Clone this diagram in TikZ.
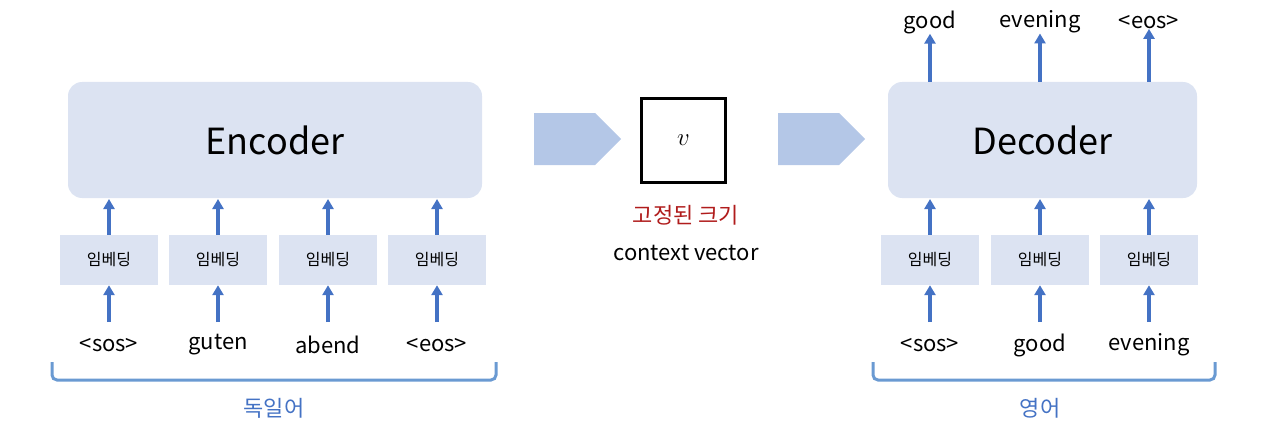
\documentclass[tikz,border=0pt]{standalone}
\usepackage{fontspec}
\setmainfont{Noto Sans CJK KR}
\usetikzlibrary{arrows.meta,shapes.arrows}
\definecolor{boxfill}{HTML}{DCE3F2}
\definecolor{arr}{HTML}{4472C4}
\definecolor{brace}{HTML}{6A9AD2}
\definecolor{big}{HTML}{B4C7E7}
\definecolor{red}{HTML}{B01C1C}
\tikzset{
  big/.style={fill=boxfill,rounded corners=14pt,inner sep=0},
  emb/.style={fill=boxfill,minimum width=98pt,minimum height=50pt,inner sep=0,font=\fontsize{16}{18}\selectfont},
  word/.style={font=\fontsize{22}{24}\selectfont,inner sep=0},
  up/.style={draw=arr,line width=3.2pt,-{Triangle[width=11pt,length=10pt]}},
  barrow/.style={single arrow,fill=big,minimum width=52pt,single arrow head extend=0pt,minimum height=87pt,inner sep=0,single arrow tip angle=90},
  lang/.style={text=arr,font=\fontsize{22}{24}\selectfont,inner sep=0}
}
\begin{document}
\begin{tikzpicture}[x=1pt,y=-1pt]
\useasboundingbox (0,0) rectangle (1280,428);
% encoder
\node[big,minimum width=414pt,minimum height=116pt,font=\fontsize{36}{40}\selectfont] (enc) at (275,140) {Encoder};
\foreach \x/\w [count=\i] in {109/{<sos>},218/guten,328/abend,437/{<eos>}}{
  \node[emb] (e\i) at (\x,260) {임베딩};
  \node[word] (w\i) at (\x,345) {\w};
  \draw[up] (\x,322) -- (e\i.south);
  \draw[up] (e\i.north) -- (\x,199);
}
\draw[brace,line width=3pt,rounded corners=5pt] (52,362) -- (52,380) -- (496,380) -- (496,362);
\node[lang] (de) at (274,408) {독일어};
% middle
\node[barrow] (a1) at (564.5,139) {};
\node[draw,line width=3pt,minimum width=84pt,minimum height=84pt,inner sep=0,font=\fontsize{24}{26}\selectfont] (v) at (683.5,140) {$v$};
\node[text=red,font=\fontsize{22}{24}\selectfont,inner sep=0] (fix) at (686,215) {고정된 크기};
\node[word] (cv) at (686,253) {context vector};
\node[barrow] (a2) at (808.5,139) {};
% decoder
\node[big,minimum width=309pt,minimum height=116pt,font=\fontsize{36}{40}\selectfont] (dec) at (1042.5,140) {Decoder};
\foreach \x/\w/\o [count=\i] in {930/{<sos>}/good,1040/good/evening,1149/evening/{<eos>}}{
  \node[emb] (d\i) at (\x,260) {임베딩};
  \node[word] (dw\i) at (\x,345) {\w};
  \node[word] (o\i) at (\x,22) {\o};
  \draw[up] (\x,322) -- (d\i.south);
  \draw[up] (d\i.north) -- (\x,199);
  \draw[up] (\x,82) -- (o\i.south);
}
\draw[brace,line width=3pt,rounded corners=5pt] (873,362) -- (873,380) -- (1215,380) -- (1215,362);
\node[lang] (en) at (1040,408) {영어};
\end{tikzpicture}
\end{document}
